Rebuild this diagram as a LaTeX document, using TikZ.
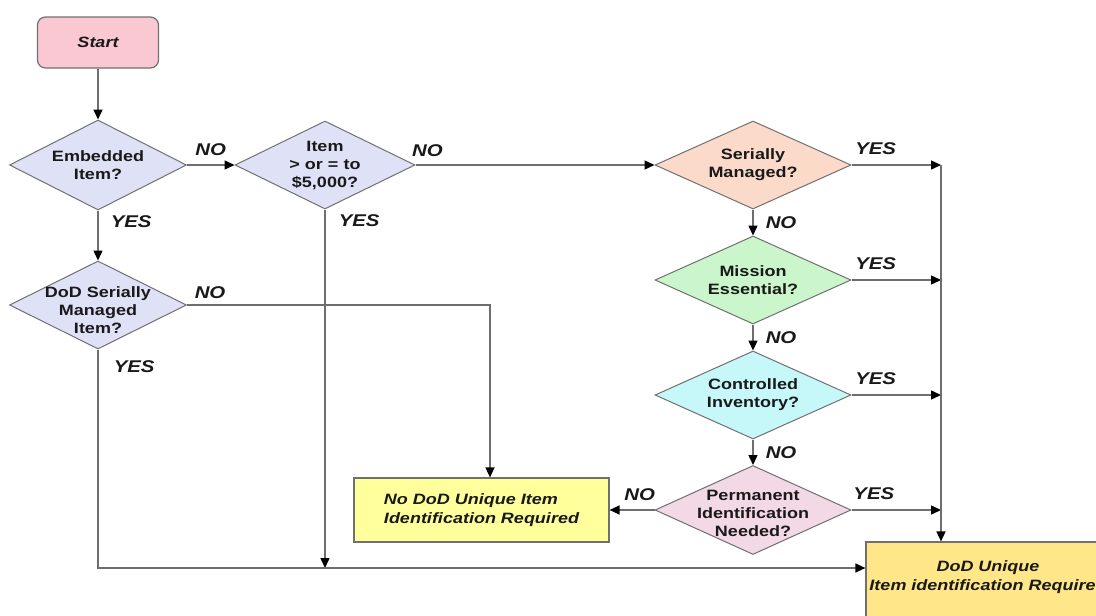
\documentclass[tikz,border=0pt]{standalone}
\usepackage{fontspec}
\setmainfont{Liberation Sans}[FakeStretch=1.2]
\usetikzlibrary{shapes.geometric,arrows.meta,calc}
\definecolor{bordc}{HTML}{707070}
\definecolor{linec}{HTML}{6E6E6E}
\definecolor{startc}{HTML}{F9C8D2}
\definecolor{lav}{HTML}{DFE2F7}
\definecolor{peach}{HTML}{FBDACA}
\definecolor{mint}{HTML}{CBF5CB}
\definecolor{cyanl}{HTML}{C6F8FA}
\definecolor{pinkl}{HTML}{F3D8E5}
\definecolor{yel1}{HTML}{FFFF9C}
\definecolor{yel2}{HTML}{FFE688}
\begin{document}
\begin{tikzpicture}[x=1pt,y=-1pt,
  dia/.style={diamond, draw=bordc, line width=1pt, inner sep=0pt,
    minimum width=196pt, minimum height=88pt},
  dtext/.style={font=\fontsize{15}{18}\selectfont\bfseries, align=center,
    text=black!90, inner sep=0pt},
  lbl/.style={font=\fontsize{17}{20}\selectfont\bfseries\itshape, inner sep=0pt, text=black!90},
  btext/.style={font=\fontsize{15}{19}\selectfont\bfseries\itshape, text=black!90, inner sep=0pt},
  startbox/.style={rectangle, rounded corners=8pt, draw=bordc, line width=1.2pt,
    fill=startc, minimum width=121pt, minimum height=51pt, btext},
  endbox/.style={rectangle, draw=bordc, line width=1.2pt, inner sep=0pt},
  arr/.style={draw=linec, line width=1.5pt,
    -{Triangle[length=10pt,width=9pt,color=black]}}]
\useasboundingbox (0,0) rectangle (1096,616);
\clip (0,0) rectangle (1096,616);

% nodes
\node[startbox] (start) at (98,42.5) {Start};
\node[dia, fill=lav, minimum width=177pt, minimum height=90pt,
  label={[dtext]center:{Embedded\\Item?}}] (emb) at (98,165) {};
\node[dia, fill=lav, minimum width=180pt, minimum height=88pt,
  label={[dtext]center:{Item\\> or = to\\\$5,000?}}] (item) at (325,165) {};
\node[dia, fill=lav, minimum width=177pt, minimum height=88pt,
  label={[dtext,yshift=-5pt]center:{DoD Serially\\Managed\\Item?}}] (dsm) at (98,305) {};
\node[dia, fill=peach,
  label={[dtext]center:{Serially\\Managed?}}] (ser) at (753,165) {};
\node[dia, fill=mint,
  label={[dtext]center:{Mission\\Essential?}}] (mis) at (753,280) {};
\node[dia, fill=cyanl,
  label={[dtext]center:{Controlled\\Inventory?}}] (con) at (753,395) {};
\node[dia, fill=pinkl, minimum height=89pt,
  label={[dtext,yshift=-3pt]center:{Permanent\\Identification\\Needed?}}] (per) at (753,510) {};
\node[endbox, fill=yel1, minimum width=255pt, minimum height=64pt,
  align=left, btext] (nodod) at (481.5,510) {No DoD Unique Item\\Identification Required};
\node[endbox, fill=yel2, minimum width=244pt, minimum height=76pt,
  label={[btext,align=center,yshift=3pt]center:{DoD Unique\\Item identification Required}}]
  (dod) at (988,580) {};

\coordinate (vx) at (941,165);
\coordinate (jb) at ([yshift=12pt]dod.west);

% connectors
\draw[arr] (start.south) -- (emb.north);
\draw[arr] (emb.east) -- (item.west) node[lbl, midway, above=9pt] {NO};
\draw[arr] (item.east) -- (ser.west) node[lbl, pos=0.05, above=8pt] {NO};
\draw[arr] (emb.south) -- (dsm.north)
  node[lbl, at start, anchor=north west, xshift=12pt, yshift=-4pt] {YES};
\draw[arr] (item.south) -- (item.south |- jb)
  node[lbl, at start, anchor=north west, xshift=13pt, yshift=-4pt] {YES};
\draw[arr] (dsm.east) -| ([xshift=8.5pt]nodod.north)
  node[lbl, at start, anchor=south west, xshift=7pt, yshift=6pt] {NO};
\draw[arr] (dsm.south) |- (jb)
  node[lbl, at start, anchor=north west, xshift=15pt, yshift=-10pt] {YES};

\draw[arr] (ser.east) -- (ser.east -| vx) node[lbl, pos=0.27, above=10pt] {YES};
\draw[arr] (mis.east) -- (mis.east -| vx) node[lbl, pos=0.27, above=10pt] {YES};
\draw[arr] (con.east) -- (con.east -| vx) node[lbl, pos=0.27, above=10pt] {YES};
\draw[arr] (per.east) -- (per.east -| vx) node[lbl, pos=0.25, above=10pt] {YES};
\draw[arr] (vx) -- (vx |- dod.north);

\draw[arr] (ser.south) -- (mis.north) node[lbl, midway, right=12pt] {NO};
\draw[arr] (mis.south) -- (con.north) node[lbl, midway, right=12pt] {NO};
\draw[arr] (con.south) -- (per.north) node[lbl, midway, right=12pt] {NO};
\draw[arr] (per.west) -- (nodod.east) node[lbl, pos=0.33, above=9pt] {NO};
\end{tikzpicture}
\end{document}
